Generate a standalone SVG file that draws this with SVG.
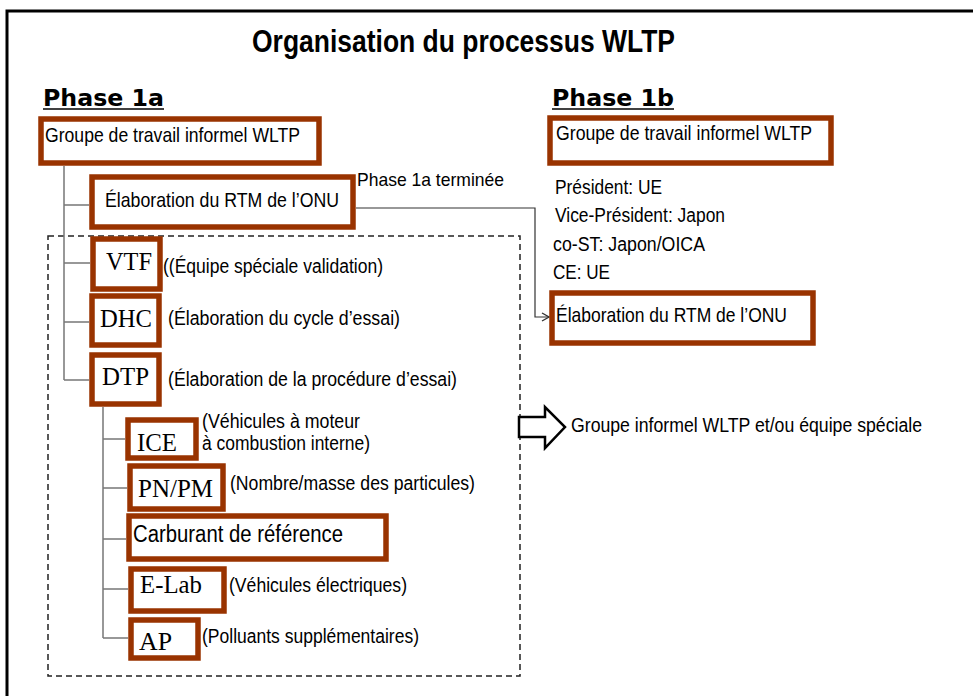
<svg xmlns="http://www.w3.org/2000/svg" width="973" height="696" viewBox="0 0 973 696">
<defs>
<style>
.box{fill:#ffffff;stroke:#993300;stroke-width:5.5}
.sans{font-family:"Liberation Sans",Arial,sans-serif;fill:#000}
.serif{font-family:"Liberation Serif","Times New Roman",serif;font-size:25px;fill:#000}
.lbl{font-size:20px}
.tree{stroke:#777;stroke-width:1.5;fill:none}
.head{font-family:"DejaVu Sans",Verdana,sans-serif;font-weight:bold;font-size:23px;fill:#000}
</style>
<marker id="arr" markerWidth="10" markerHeight="10" refX="9" refY="5" orient="auto" markerUnits="userSpaceOnUse">
<path d="M2,1 L9,5 L2,9" fill="none" stroke="#333" stroke-width="1.3"/>
</marker>
</defs>
<rect width="973" height="696" fill="#fff"/>
<path d="M7,696 V11 H973" fill="none" stroke="#000" stroke-width="3"/>

<text class="sans" x="252" y="52" font-size="31" font-weight="bold" textLength="423" lengthAdjust="spacingAndGlyphs">Organisation du processus WLTP</text>

<g id="phase1a-title">
<text class="head" x="43" y="106" textLength="121" lengthAdjust="spacingAndGlyphs">Phase 1a</text>
<line x1="43" y1="109" x2="164" y2="109" stroke="#000" stroke-width="1.5"/>
</g>
<g id="phase1b-title">
<text class="head" x="552" y="106" textLength="122" lengthAdjust="spacingAndGlyphs">Phase 1b</text>
<line x1="552" y1="109" x2="674" y2="109" stroke="#000" stroke-width="1.5"/>
</g>

<g id="connectors">
<rect x="48" y="236" width="472" height="440" fill="none" stroke="#222" stroke-width="1.5" stroke-dasharray="6 4"/>
<path class="tree" d="M64,166 V380 M64,205 H89 M64,263 H90 M64,322 H89 M64,380 H89"/>
<path class="tree" d="M103,407 V638 M103,439 H125 M103,488 H127 M103,539 H126 M103,589 H128 M103,638 H128"/>
<path d="M356,208 H535 V317 H549" fill="none" stroke="#333" stroke-width="1.2" marker-end="url(#arr)"/>
<polygon points="519,417 545,417 545,407 565,427 545,448 545,437 519,437" fill="#fff" stroke="#000" stroke-width="2.5" stroke-linejoin="miter"/>
</g>

<g id="groupe-1a">
<rect class="box" x="41" y="119" width="278" height="44"/>
<text class="sans" x="45" y="142" font-size="21" textLength="255" lengthAdjust="spacingAndGlyphs">Groupe de travail informel WLTP</text>
</g>
<g id="elab-1a">
<rect class="box" x="92" y="177" width="261" height="50"/>
<text class="sans" x="105" y="207" font-size="21" textLength="234" lengthAdjust="spacingAndGlyphs">Élaboration du RTM de l’ONU</text>
</g>
<g id="phase1a-done">
<text class="sans" x="357" y="186" font-size="19" textLength="147" lengthAdjust="spacingAndGlyphs">Phase 1a terminée</text>
</g>

<g id="groupe-1b">
<rect class="box" x="550" y="118" width="281" height="45"/>
<text class="sans" x="556" y="140" font-size="21" textLength="256" lengthAdjust="spacingAndGlyphs">Groupe de travail informel WLTP</text>
</g>
<g id="officers">
<text class="sans lbl" x="555" y="194" textLength="107" lengthAdjust="spacingAndGlyphs">Président: UE</text>
<text class="sans lbl" x="555" y="222" textLength="170" lengthAdjust="spacingAndGlyphs">Vice-Président: Japon</text>
<text class="sans lbl" x="553" y="251" textLength="152" lengthAdjust="spacingAndGlyphs">co-ST: Japon/OICA</text>
<text class="sans lbl" x="553" y="279" textLength="57" lengthAdjust="spacingAndGlyphs">CE: UE</text>
</g>
<g id="elab-1b">
<rect class="box" x="552" y="293" width="261" height="50"/>
<text class="sans" x="556" y="322" font-size="21" textLength="231" lengthAdjust="spacingAndGlyphs">Élaboration du RTM de l’ONU</text>
</g>
<g id="legend">
<text class="sans lbl" x="571" y="432" textLength="351" lengthAdjust="spacingAndGlyphs">Groupe informel WLTP et/ou équipe spéciale</text>
</g>

<g id="vtf">
<rect class="box" x="93" y="239" width="67" height="50"/>
<text class="serif" x="106" y="270" textLength="46" lengthAdjust="spacingAndGlyphs">VTF</text>
<text class="sans lbl" x="163" y="273" textLength="220" lengthAdjust="spacingAndGlyphs">((Équipe spéciale validation)</text>
</g>
<g id="dhc">
<rect class="box" x="92" y="296" width="67" height="49"/>
<text class="serif" x="100" y="327" textLength="52" lengthAdjust="spacingAndGlyphs">DHC</text>
<text class="sans lbl" x="168" y="325" textLength="232" lengthAdjust="spacingAndGlyphs">(Élaboration du cycle d’essai)</text>
</g>
<g id="dtp">
<rect class="box" x="92" y="355" width="67" height="49"/>
<text class="serif" x="102" y="385" textLength="47" lengthAdjust="spacingAndGlyphs">DTP</text>
<text class="sans lbl" x="168" y="386" textLength="289" lengthAdjust="spacingAndGlyphs">(Élaboration de la procédure d’essai)</text>
</g>
<g id="ice">
<rect class="box" x="128" y="420" width="68" height="38"/>
<text class="serif" x="137" y="451" textLength="40" lengthAdjust="spacingAndGlyphs">ICE</text>
<text class="sans lbl" x="202" y="428" textLength="158" lengthAdjust="spacingAndGlyphs">(Véhicules à moteur</text>
<text class="sans lbl" x="202" y="450" textLength="168" lengthAdjust="spacingAndGlyphs">à combustion interne)</text>
</g>
<g id="pnpm">
<rect class="box" x="130" y="466" width="93" height="43"/>
<text class="serif" x="138" y="497" textLength="75" lengthAdjust="spacingAndGlyphs">PN/PM</text>
<text class="sans lbl" x="230" y="490" textLength="245" lengthAdjust="spacingAndGlyphs">(Nombre/masse des particules)</text>
</g>
<g id="carburant">
<rect class="box" x="129" y="516" width="257" height="43"/>
<text class="sans" x="133" y="542" font-size="23" textLength="210" lengthAdjust="spacingAndGlyphs">Carburant de référence</text>
</g>
<g id="elab">
<rect class="box" x="131" y="569" width="93" height="42"/>
<text class="serif" x="140" y="593" textLength="62" lengthAdjust="spacingAndGlyphs">E-Lab</text>
<text class="sans lbl" x="229" y="592" textLength="178" lengthAdjust="spacingAndGlyphs">(Véhicules électriques)</text>
</g>
<g id="ap">
<rect class="box" x="131" y="620" width="67" height="38"/>
<text class="serif" x="139" y="650" textLength="33" lengthAdjust="spacingAndGlyphs">AP</text>
<text class="sans lbl" x="202" y="643" textLength="217" lengthAdjust="spacingAndGlyphs">(Polluants supplémentaires)</text>
</g>
</svg>
